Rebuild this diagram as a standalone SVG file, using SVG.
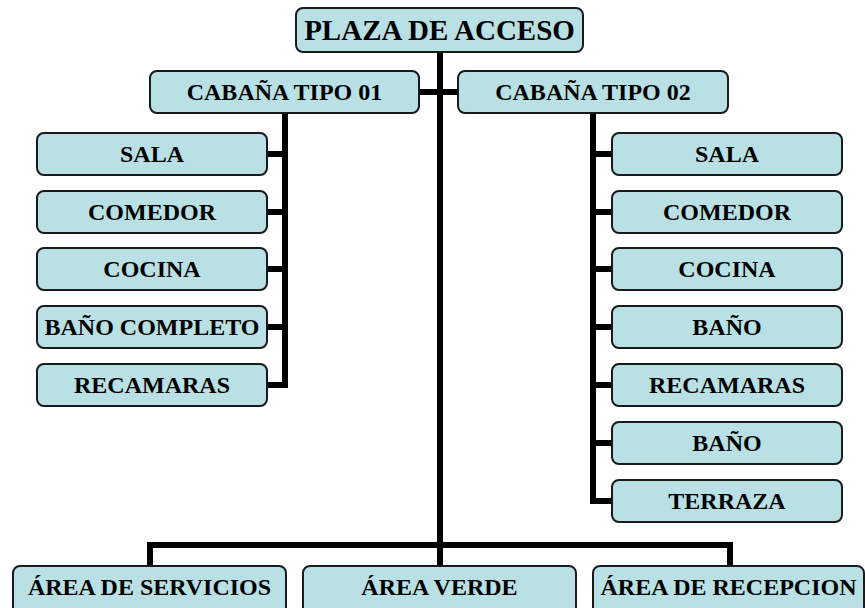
<svg xmlns="http://www.w3.org/2000/svg" width="865" height="608" viewBox="0 0 865 608">
<style>
.box{fill:#b9e0e4;stroke:#1a1a1a;stroke-width:2}
.t{font-family:"Liberation Serif","Times New Roman",serif;font-weight:bold;fill:#000;text-anchor:middle}
.s24{font-size:24px}
.s29{font-size:29px}
.c{fill:none;stroke:#000;stroke-width:6;stroke-linecap:butt}
</style>
<rect width="865" height="608" fill="#fff"/>
<g id="connectors">
<path class="c" d="M440 52V566"/>
<path class="c" d="M419 92H458"/>
<path class="c" d="M285 113V388"/>
<path class="c" d="M267 154H285M267 212H285M267 269H285M267 327H285M267 385H288"/>
<path class="c" d="M593 113V504"/>
<path class="c" d="M593 154H612M593 212H612M593 269H612M593 327H612M593 385H612M593 443H612M590 501H612"/>
<path class="c" d="M150 566V545H730V566"/>
</g>
<g id="plaza"><rect class="box" x="296" y="8" width="287" height="44" rx="7"/><text class="t s29" x="439.5" y="40">PLAZA DE ACCESO</text></g>
<g id="cabana1"><rect class="box" x="150" y="71" width="269" height="42" rx="7"/><text class="t s24" x="284.5" y="100">CABAÑA TIPO 01</text></g>
<g id="cabana2"><rect class="box" x="458" y="71" width="270" height="42" rx="7"/><text class="t s24" x="593" y="100">CABAÑA TIPO 02</text></g>
<g id="l-sala"><rect class="box" x="37" y="133" width="230" height="42" rx="7"/><text class="t s24" x="152" y="162">SALA</text></g>
<g id="l-comedor"><rect class="box" x="37" y="191" width="230" height="42" rx="7"/><text class="t s24" x="152" y="220">COMEDOR</text></g>
<g id="l-cocina"><rect class="box" x="37" y="248" width="230" height="42" rx="7"/><text class="t s24" x="152" y="277">COCINA</text></g>
<g id="l-bano"><rect class="box" x="37" y="306" width="230" height="42" rx="7"/><text class="t s24" x="152" y="335">BAÑO COMPLETO</text></g>
<g id="l-recamaras"><rect class="box" x="37" y="364" width="230" height="42" rx="7"/><text class="t s24" x="152" y="393">RECAMARAS</text></g>
<g id="r-sala"><rect class="box" x="612" y="133" width="230" height="42" rx="7"/><text class="t s24" x="727" y="162">SALA</text></g>
<g id="r-comedor"><rect class="box" x="612" y="191" width="230" height="42" rx="7"/><text class="t s24" x="727" y="220">COMEDOR</text></g>
<g id="r-cocina"><rect class="box" x="612" y="248" width="230" height="42" rx="7"/><text class="t s24" x="727" y="277">COCINA</text></g>
<g id="r-bano1"><rect class="box" x="612" y="306" width="230" height="42" rx="7"/><text class="t s24" x="727" y="335">BAÑO</text></g>
<g id="r-recamaras"><rect class="box" x="612" y="364" width="230" height="42" rx="7"/><text class="t s24" x="727" y="393">RECAMARAS</text></g>
<g id="r-bano2"><rect class="box" x="612" y="422" width="230" height="42" rx="7"/><text class="t s24" x="727" y="451">BAÑO</text></g>
<g id="r-terraza"><rect class="box" x="612" y="480" width="230" height="42" rx="7"/><text class="t s24" x="727" y="509">TERRAZA</text></g>
<g id="servicios"><rect class="box" x="13" y="566" width="273" height="50" rx="7"/><text class="t s24" x="149.5" y="595">ÁREA DE SERVICIOS</text></g>
<g id="verde"><rect class="box" x="303" y="566" width="273" height="50" rx="7"/><text class="t s24" x="439.5" y="595">ÁREA VERDE</text></g>
<g id="recepcion"><rect class="box" x="593" y="566" width="271" height="50" rx="7"/><text class="t s24" x="728.5" y="595">ÁREA DE RECEPCION</text></g>
</svg>
